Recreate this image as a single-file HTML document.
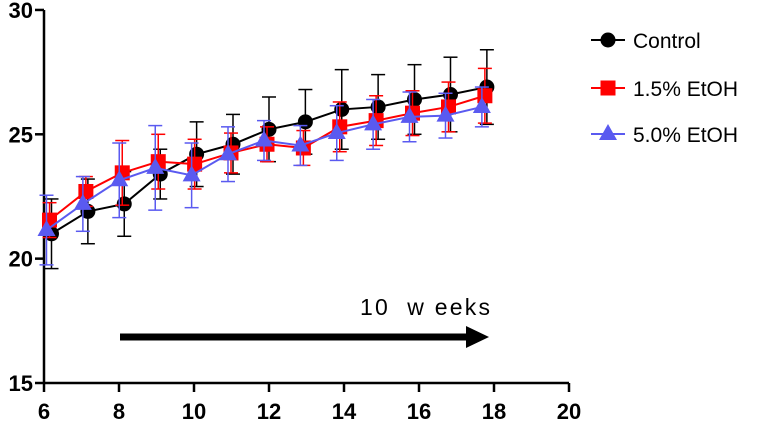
<!DOCTYPE html>
<html><head><meta charset="utf-8"><style>
html,body{margin:0;padding:0;background:#fff}
svg{display:block;font-family:"Liberation Sans",Arial,sans-serif}
</style></head><body>
<svg id="chart" width="777" height="426" viewBox="0 0 777 426"></svg>
<script>
const weeks=[6.2,7.17,8.14,9.1,10.07,11.04,12.0,12.97,13.94,14.91,15.88,16.84,17.81];
const controlVals=[21.0,21.9,22.2,23.4,24.2,24.6,25.2,25.5,26.0,26.1,26.4,26.6,26.9];
const controlErr=[1.4,1.3,1.3,1.0,1.3,1.2,1.3,1.3,1.6,1.3,1.4,1.5,1.5];
const etoh15Vals=[21.55,22.7,23.45,23.9,23.8,24.25,24.6,24.45,25.3,25.55,25.85,26.1,26.55];
const etoh15Err=[0.7,0.6,1.3,1.1,1.0,0.8,0.7,0.7,1.0,1.0,0.9,1.0,1.1];
const etoh50Vals=[21.15,22.2,23.15,23.65,23.35,24.2,24.75,24.55,25.05,25.4,25.7,25.75,26.1];
const etoh50Err=[1.4,1.1,1.5,1.7,1.3,1.1,0.8,0.8,1.1,1.0,1.0,0.9,0.8];
const xTicks=[6,8,10,12,14,16,18,20];
const yTicks=[15,20,25,30];
const NS="http://www.w3.org/2000/svg";
const svg=document.getElementById('chart');
const X=v=>44+(v-6)*37.5;
const Y=v=>383-(v-15)*24.87;
function el(t,a,p){const e=document.createElementNS(NS,t);for(const k in a)e.setAttribute(k,a[k]);(p||svg).appendChild(e);return e;}
let ax=el('line',{x1:44,y1:10,x2:44,y2:384,stroke:'#000','stroke-width':2.5});


ax=el('line',{x1:43,y1:383,x2:569,y2:383,stroke:'#000','stroke-width':2.5});


yTicks.forEach(v=>{
  el('line',{x1:35,y1:Y(v),x2:44,y2:Y(v),stroke:'#000','stroke-width':2.5});
  const t=el('text',{x:33,y:Y(v)+8,'text-anchor':'end','font-size':22,'font-weight':'bold'});
  t.textContent=v;
  
  
});
xTicks.forEach(v=>{
  el('line',{x1:X(v),y1:383,x2:X(v),y2:392,stroke:'#000','stroke-width':2.5});
  const t=el('text',{x:X(v),y:419,'text-anchor':'middle','font-size':22,'font-weight':'bold'});
  t.textContent=v;
  
  
});
function marker(type,cx,cy,col,g){
  if(type==='circle')return el('circle',{cx,cy,r:7.5,fill:col},g);
  if(type==='square')return el('rect',{x:cx-7.5,y:cy-7.5,width:15,height:15,fill:col},g);
  return el('polygon',{points:`${cx},${cy-10} ${cx+9},${cy+6} ${cx-9},${cy+6}`,fill:col},g);
}
function series(name,vals,err,col,type,dx){
  const g=el('g',{});
  
  
  vals.forEach((v,i)=>{
    const x=X(weeks[i])+dx;
    el('line',{x1:x,y1:Y(v-err[i]),x2:x,y2:Y(v+err[i]),stroke:col,'stroke-width':1.5},g);
    [v-err[i],v+err[i]].forEach(e=>el('line',{x1:x-7,y1:Y(e),x2:x+7,y2:Y(e),stroke:col,'stroke-width':1.5},g));
  });
  el('polyline',{points:vals.map((v,i)=>`${X(weeks[i])+dx},${Y(v)}`).join(' '),fill:'none',stroke:col,'stroke-width':2},g);
  vals.forEach((v,i)=>{const m=marker(type,X(weeks[i])+dx,Y(v),col,g);
    
    });
}
series('control-series',controlVals,controlErr,'#000','circle',0);
series('etoh-1-5-series',etoh15Vals,etoh15Err,'#ff0000','square',-2);
series('etoh-5-0-series',etoh50Vals,etoh50Err,'#5a5af0','triangle',-5);
const ar=el('g',{});


el('line',{x1:120,y1:337,x2:470,y2:337,stroke:'#000','stroke-width':7},ar);
el('polygon',{points:'466,326 489,337 466,348',fill:'#000'},ar);
const at=el('text',{x:360,y:315,'font-size':23,textLength:130,lengthAdjust:'spacing'});
at.setAttribute('style','white-space:pre');
at.textContent='10  w eeks';


const leg=[['Control','#000','circle',40],['1.5% EtOH','#ff0000','square',88],['5.0% EtOH','#5a5af0','triangle',134]];
leg.forEach(([lab,col,type,y])=>{
  const g=el('g',{});
  
  
  el('line',{x1:591,y1:y,x2:625,y2:y,stroke:col,'stroke-width':2},g);
  marker(type,608,y,col,g);
  const t=el('text',{x:633,y:y+8,'font-size':21},g);
  t.textContent=lab;
});
</script>
</body></html>
